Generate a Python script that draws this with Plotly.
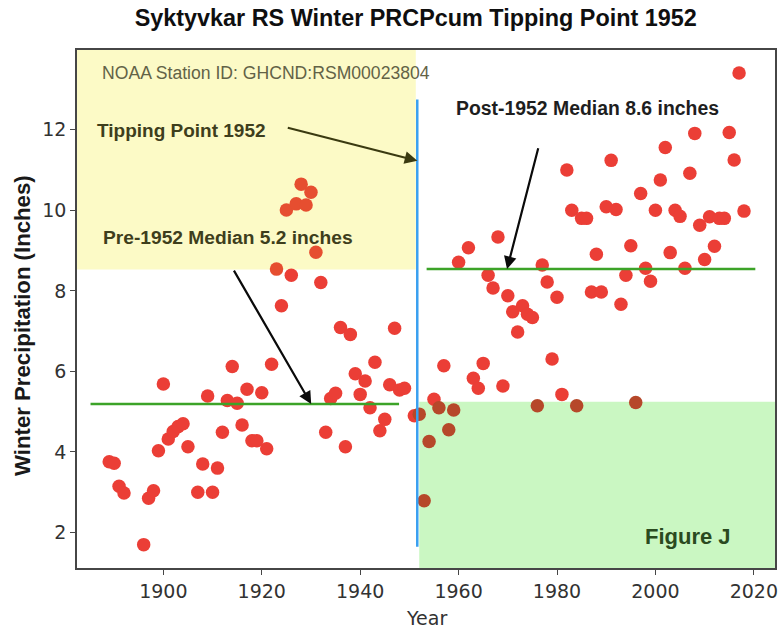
import plotly.graph_objects as go

# ---- data ----
years = [1889, 1890, 1891, 1892, 1896, 1897, 1898, 1899, 1900, 1901, 1902, 1903, 1904, 1905,
         1907, 1908, 1909, 1910, 1911, 1912, 1913, 1914, 1915, 1916, 1917, 1918, 1919, 1920,
         1921, 1922, 1923, 1924, 1925, 1926, 1927, 1928, 1929, 1930, 1931, 1932, 1933, 1934,
         1935, 1936, 1937, 1938, 1939, 1940, 1941, 1942, 1943, 1944, 1945, 1946, 1947, 1948,
         1949, 1951,
         1952, 1953, 1954, 1955, 1956, 1957, 1958, 1959, 1960, 1962, 1963, 1964, 1965, 1966,
         1967, 1968, 1969, 1970, 1971, 1972, 1973, 1974, 1975, 1976, 1977, 1978, 1979, 1980,
         1981, 1982, 1983, 1984, 1985, 1986, 1987, 1988, 1989, 1990, 1991, 1992, 1993, 1994,
         1995, 1996, 1997, 1998, 1999, 2000, 2001, 2002, 2003, 2004, 2005, 2006, 2007, 2008,
         2009, 2010, 2011, 2012, 2013, 2014, 2015, 2016, 2017, 2018]
precip = [3.76, 3.72, 3.15, 2.98, 1.70, 2.85, 3.04, 4.03, 5.69, 4.32, 4.51, 4.63, 4.70, 4.13,
          3.00, 3.70, 5.39, 3.00, 3.60, 4.49, 5.28, 6.12, 5.21, 4.67, 5.56, 4.28, 4.28, 5.47,
          4.08, 6.18, 8.54, 7.63, 10.01, 8.39, 10.16, 10.65, 10.13, 10.45, 8.96, 8.21, 4.49, 5.33,
          5.46, 7.09, 4.13, 6.92, 5.94, 5.43, 5.76, 5.10, 6.23, 4.53, 4.81, 5.67, 7.07, 5.54,
          5.58, 4.90,
          4.94, 2.79, 4.26, 5.31, 5.10, 6.14, 4.55, 5.04, 8.71, 9.07, 5.83, 5.58, 6.20, 8.39,
          8.07, 9.34, 5.64, 7.88, 7.48, 6.98, 7.63, 7.42, 7.34, 5.15, 8.64, 8.22, 6.31, 7.84,
          5.43, 11.00, 10.00, 5.15, 9.80, 9.80, 7.97, 8.91, 7.97, 10.09, 11.24, 10.02, 7.67, 8.39,
          9.12, 5.23, 10.42, 8.56, 8.24, 10.00, 10.75, 11.56, 8.95, 10.00, 9.85, 8.56, 10.92, 11.91,
          9.63, 8.78, 9.84, 9.11, 9.80, 9.80, 11.93, 11.25, 13.41, 9.98]

tipping_year = 1951.6
pre_median_x = [1885.2, 1947.9]
pre_median_y = [5.19, 5.19]
post_median_x = [1953.5, 2020.3]
post_median_y = [8.54, 8.54]
tipping_line_y = [1.65, 12.75]

x_ticks = [1900, 1920, 1940, 1960, 1980, 2000, 2020]
y_ticks = [2, 4, 6, 8, 10, 12]

x_range = [1882.45, 2024.3]
y_range = [1.12, 13.98]

yellow_box = dict(x1=1951.3, y0=8.53)
green_box = dict(x0=1952.0, y1=5.25)

# ---- style ----
RED = "rgb(235,62,54)"
RED_ON_YELLOW = "rgb(230,78,48)"
RED_ON_GREEN = "rgb(182,72,42)"
colors = []
for xv, yv in zip(years, precip):
    if xv <= yellow_box["x1"] and yv >= yellow_box["y0"]:
        colors.append(RED_ON_YELLOW)
    elif xv >= green_box["x0"] and yv <= green_box["y1"]:
        colors.append(RED_ON_GREEN)
    else:
        colors.append(RED)

fig = go.Figure()

fig.add_shape(type="rect", xref="x", yref="y", x0=x_range[0], x1=yellow_box["x1"],
              y0=yellow_box["y0"], y1=y_range[1], fillcolor="rgb(252,250,198)",
              line=dict(width=0), layer="below")
fig.add_shape(type="rect", xref="x", yref="y", x0=green_box["x0"], x1=x_range[1],
              y0=y_range[0], y1=green_box["y1"], fillcolor="rgb(202,247,194)",
              line=dict(width=0), layer="below")

fig.add_trace(go.Scatter(x=years, y=precip, mode="markers",
                         marker=dict(size=13.5, color=colors, line=dict(width=0)),
                         showlegend=False, hoverinfo="x+y"))

GREEN = "rgb(60,163,40)"
fig.add_trace(go.Scatter(x=pre_median_x, y=pre_median_y, mode="lines",
                         line=dict(color=GREEN, width=2.5), showlegend=False))
fig.add_trace(go.Scatter(x=post_median_x, y=post_median_y, mode="lines",
                         line=dict(color=GREEN, width=2.5), showlegend=False))
fig.add_trace(go.Scatter(x=[tipping_year, tipping_year], y=tipping_line_y, mode="lines",
                         line=dict(color="rgb(58,160,240)", width=2.5), showlegend=False))

BOLD = "Liberation Sans, Arial, sans-serif"
OLIVE = "rgb(62,62,28)"

def label(text, x, y, size, color, bold=True):
    fig.add_annotation(x=x, y=y, xref="x", yref="y", text=f"<b>{text}</b>" if bold else text,
                       showarrow=False, xanchor="left", yanchor="middle", borderpad=0,
                       font=dict(family=BOLD, size=size, color=color))

def arrow(tail, head, color, width=2.2):
    fig.add_annotation(x=head[0], y=head[1], ax=tail[0], ay=tail[1], xref="x", yref="y",
                       axref="x", ayref="y", text="", showarrow=True, arrowhead=2,
                       arrowsize=1.15, arrowwidth=width, arrowcolor=color, standoff=0)

label("NOAA Station ID: GHCND:RSM00023804", 1887.4, 13.41, 17.6, "rgb(98,98,70)", bold=False)
label("Tipping Point 1952", 1886.4, 11.98, 19, OLIVE)
label("Pre-1952 Median 5.2 inches", 1887.6, 9.33, 19.2, OLIVE)
label("Post-1952 Median 8.6 inches", 1959.3, 12.53, 19.4, "rgb(30,30,30)")
label("Figure J", 1997.6, 1.90, 22, "rgb(42,74,32)")

arrow((1924.98, 12.06), (1951.62, 11.23), "rgb(58,58,16)")
arrow((1914.17, 8.54), (1930.04, 5.19), "rgb(10,10,10)")
arrow((1976.26, 11.58), (1969.84, 8.54), "rgb(10,10,10)")

# axis titles
fig.add_annotation(xref="paper", yref="paper", x=-0.079, y=0.469, text="<b>Winter Precipitation (Inches)</b>",
                   textangle=-90, showarrow=False, xanchor="center", yanchor="middle",
                   font=dict(family=BOLD, size=22.2, color="rgb(25,25,25)"))
fig.add_annotation(xref="paper", yref="paper", x=0.5, y=-0.0965, text="Year",
                   showarrow=False, xanchor="center", yanchor="middle",
                   font=dict(family="DejaVu Sans", size=19, color="rgb(50,50,50)"))

axis_common = dict(showgrid=False, zeroline=False, showline=True, mirror=True,
                   linecolor="rgb(70,70,70)", linewidth=1.5, ticks="outside", ticklen=5,
                   tickwidth=1.2, tickcolor="rgb(70,70,70)",
                   tickfont=dict(family="DejaVu Sans", size=19, color="rgb(50,50,50)"))

fig.update_xaxes(range=x_range, tickvals=x_ticks, **axis_common)
fig.update_yaxes(range=y_range, tickvals=y_ticks, **axis_common)

fig.update_layout(
    width=783, height=628,
    margin=dict(l=77, r=5, t=50, b=60),
    paper_bgcolor="white", plot_bgcolor="white",
    title=dict(text="<b>Syktyvkar RS Winter PRCPcum Tipping Point 1952</b>",
               x=0.531, xref="container", xanchor="center",
               y=1 - 18 / 628, yref="container", yanchor="middle",
               font=dict(family=BOLD, size=23.4, color="rgb(15,15,15)")),
    showlegend=False,
)

fig.write_html("out.html", config={"displayModeBar": False},
               post_script="document.body.style.margin='0';document.body.style.padding='0';")
